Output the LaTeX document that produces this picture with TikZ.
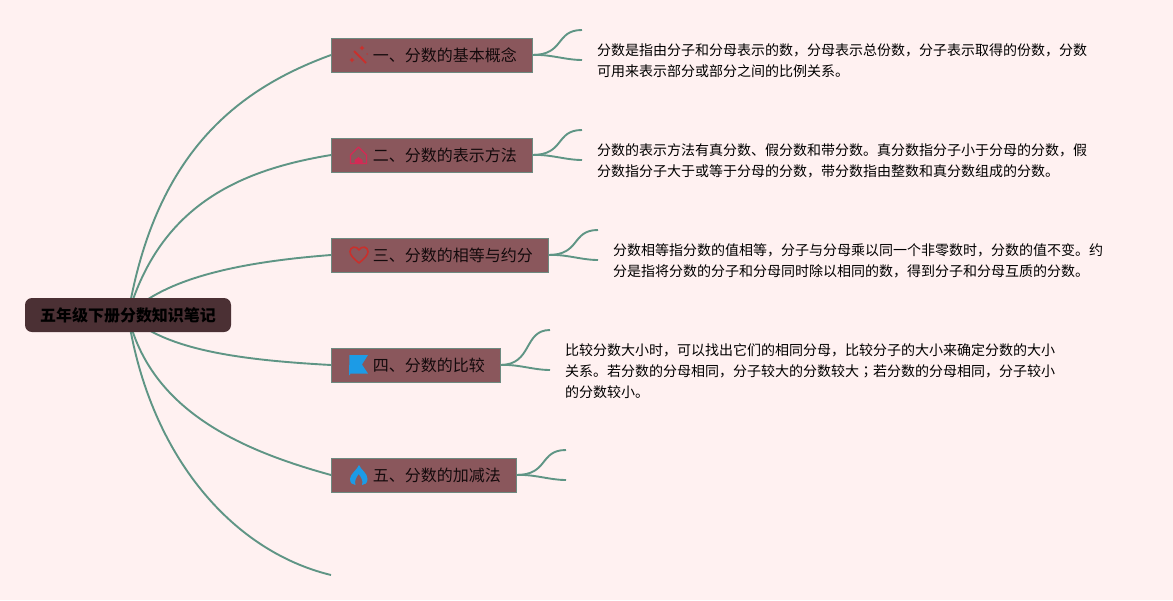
\documentclass[tikz,border=0pt]{standalone}
\usepackage{fontspec}
\setmainfont{Noto Sans CJK SC}
\newfontfamily\cjktc{Noto Sans CJK TC}
\usetikzlibrary{backgrounds}
\definecolor{bgc}{HTML}{FFF1F1}
\definecolor{linec}{HTML}{5F9585}
\definecolor{edgec}{HTML}{6D8A80}
\definecolor{boxc}{HTML}{8A575C}
\definecolor{rootc}{HTML}{4B3034}
\definecolor{inkc}{HTML}{140A0C}
\definecolor{iconred}{HTML}{C9302C}
\definecolor{iconrose}{HTML}{D42A55}
\definecolor{iconblue}{HTML}{1C9BE6}
\newcommand{\toptext}[1]{\raisebox{-2pt}{\hspace*{26.5pt}#1}}
\tikzset{
  rootbox/.style={fill=rootc,rounded corners=7pt,minimum width=206pt,minimum height=34pt,inner sep=0pt,outer sep=0pt,
    font=\fontsize{16}{20}\selectfont\bfseries,text=black},
  topic/.style={draw=edgec,fill=boxc,line width=0.9pt,minimum height=34pt,inner xsep=15.25pt,inner ysep=0pt,outer sep=0pt,anchor=north west,
    font=\fontsize{16}{20}\selectfont,text=inkc},
  note/.style={anchor=north west,inner sep=0pt,align=left,text=black,font=\fontsize{14}{21}\selectfont},
  conn/.style={draw=linec,line width=1.9pt}
}
\begin{document}
\begin{tikzpicture}[x=1pt,y=-1pt]
\useasboundingbox (0,0) rectangle (1173,600);

\coordinate (e1a) at (582,30); \coordinate (e1b) at (582,60);
\coordinate (e2a) at (582,130); \coordinate (e2b) at (582,160);
\coordinate (e3a) at (598,230); \coordinate (e3b) at (598,260);
\coordinate (e4a) at (550,330); \coordinate (e4b) at (550,370);
\coordinate (e5a) at (566,450); \coordinate (e5b) at (566,480);
\coordinate (e6) at (331,575);

\node[topic] (t1) at (331,38) {\toptext{一、分数的基本概念}};
\node[topic] (t2) at (331,138) {\toptext{二、分数的表示方法}};
\node[topic] (t3) at (331,238) {\toptext{三、分数的相等与约分}};
\node[topic] (t4) at (331,348) {\toptext{四、分数的比较}};
\node[topic] (t5) at (331,458) {\toptext{五、分数的加减法}};
\node[rootbox,anchor=north west] (root) at (25,298) {\raisebox{-1.5pt}{五年级下册分数知识笔记}};

\begin{scope}[on background layer]
\fill[bgc] (0,0) rectangle (1173,600);
\draw[conn] (root.center) .. controls (155,155) and (235,90) .. (t1.west);
\draw[conn] (root.center) .. controls (160,205) and (240,170) .. (t2.west);
\draw[conn] (root.center) .. controls (165,278) and (240,262) .. (t3.west);
\draw[conn] (root.center) .. controls (165,350) and (240,360) .. (t4.west);
\draw[conn] (root.center) .. controls (150,410) and (240,450) .. (t5.west);
\draw[conn] (root.center) .. controls (148,450) and (228,550) .. (e6);
\draw[conn] (t1.east) .. controls (565,55) and (555,30) .. (e1a);
\draw[conn] (t1.east) .. controls (550,54) and (565,60) .. (e1b);
\draw[conn] (t2.east) .. controls (565,155) and (555,130) .. (e2a);
\draw[conn] (t2.east) .. controls (550,154) and (565,160) .. (e2b);
\draw[conn] (t3.east) .. controls (581,255) and (571,230) .. (e3a);
\draw[conn] (t3.east) .. controls (566,254) and (581,260) .. (e3b);
\draw[conn] (t4.east) .. controls (533,365) and (523,330) .. (e4a);
\draw[conn] (t4.east) .. controls (518,364) and (533,370) .. (e4b);
\draw[conn] (t5.east) .. controls (549,475) and (539,450) .. (e5a);
\draw[conn] (t5.east) .. controls (534,474) and (549,480) .. (e5b);
\end{scope}

% icons
\draw[iconred,line width=1.8pt] (354,51) -- (366,63);
\fill[iconred] (362,45.5) -- (362.9,47.1) -- (364.5,48) -- (362.9,48.9) -- (362,50.5) -- (361.1,48.9) -- (359.5,48) -- (361.1,47.1) -- cycle;
\fill[iconred] (352,57.5) -- (352.9,59.1) -- (354.5,60) -- (352.9,60.9) -- (352,62.5) -- (351.1,60.9) -- (349.5,60) -- (351.1,59.1) -- cycle;
\fill[iconred,opacity=.6] (367,54) circle (1pt);
\draw[iconrose,line width=1.3pt,line join=round] (350.5,163.5) -- (350.5,155) -- (358.5,147) -- (366.5,155) -- (366.5,163.5) -- cycle;
\fill[iconrose] (354.5,163.5) -- (354.5,160) -- (358.5,157) -- (362.5,160) -- (362.5,163.5) -- cycle;
\draw[iconred,line width=1.6pt,line join=round] (359,263) .. controls (353,258) and (350,255) .. (350,251.5) .. controls (350,246.5) and (356.5,245.5) .. (359,250) .. controls (361.5,245.5) and (368,246.5) .. (368,251.5) .. controls (368,255) and (365,258) .. (359,263) -- cycle;
\fill[iconblue] (349.5,355) -- (368,355) -- (362,364.5) -- (368,373.5) -- (350,373.5) -- (350,375) -- (349,375) -- cycle;
\fill[iconblue] (359,465) .. controls (361,470) and (367.5,473) .. (367.5,479) .. controls (367.5,483) and (365,485) .. (362,485) .. controls (363.5,481) and (361,477) .. (358.7,474) .. controls (356.5,477) and (354,481) .. (355.5,485) .. controls (352.5,485) and (350,483) .. (350,479) .. controls (350,474) and (357,470) .. (359,465) -- cycle;

% notes
\node[note] (n1) at (597,43.5) {分数是指由分子和分母表示的数，分母表示总份数，分子表示取得的份数，分数\\可用来表示部分或部分之间的比例关系。};
\node[note] (n2) at (597,143.5) {分数的表示方法有真分数、假分数和带分数。真分数指分子小于分母的分数，假\\分数指分子大于或等于分母的分数，带分数指由整数和真分数组成的分数。};
\node[note] (n3) at (613,243.5) {分数相等指分数的值相等，分子与分母乘以同一个非零数时，分数的值不变。约\\分是指将分数的分子和分母同时除以相同的数，得到分子和分母互质的分数。};
\node[note] (n4) at (565,343.5) {比较分数大小时，可以找出它们的相同分母，比较分子的大小来确定分数的大小\\关系。若分数的分母相同，分子较大的分数较大{\cjktc ；}若分数的分母相同，分子较小\\的分数较小。};
\end{tikzpicture}
\end{document}
